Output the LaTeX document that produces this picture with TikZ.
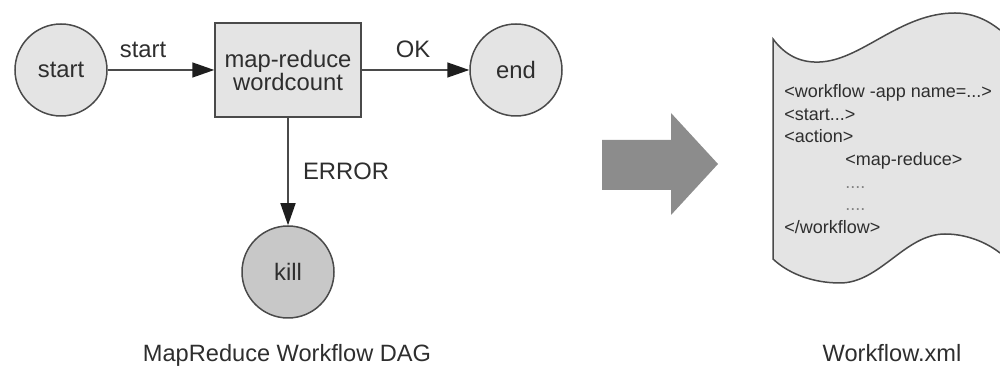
\documentclass[tikz,border=0pt]{standalone}
\usepackage{fontspec}
\setmainfont{Liberation Sans}
\usetikzlibrary{arrows.meta}
\definecolor{ink}{HTML}{2E2E2E}
\definecolor{lightfill}{HTML}{E4E4E4}
\definecolor{killfill}{HTML}{C8C8C8}
\definecolor{linegray}{HTML}{4A4A4A}
\definecolor{tipcol}{HTML}{1E1E1E}
\definecolor{bigarrow}{HTML}{8C8C8C}
\tikzset{
  every node/.style={text=ink},
  state/.style={circle, draw=linegray, line width=0.75pt, fill=lightfill, minimum size=46pt, inner sep=0pt, font=\fontsize{11.9}{11.5}\selectfont},
  killstate/.style={state, fill=killfill},
  actionbox/.style={rectangle, draw=linegray, line width=0.75pt, fill=lightfill, minimum width=73pt, minimum height=47pt, inner sep=0pt, align=center, font=\fontsize{11.9}{11.5}\selectfont},
  flow/.style={draw=linegray, line width=0.75pt, -{Triangle[length=11pt,width=7.5pt,color=tipcol,fill=tipcol]}},
  lbl/.style={font=\fontsize{11.9}{11.5}\selectfont, anchor=base, inner sep=0pt},
  caption/.style={font=\fontsize{11.8}{12}\selectfont, anchor=base, inner sep=0pt},
  doctext/.style={font=\fontsize{9}{11.35}\selectfont, align=left, anchor=north west, inner sep=0pt},
}
\begin{document}
\begin{tikzpicture}[x=0.5pt, y=-0.5pt]
\useasboundingbox (0,0) rectangle (1000,367);
% DAG
\node[state] (start) at (61,70) {start};
\node[actionbox] (mr) at (288,70) {map-reduce\\wordcount};
\node[state] (end) at (516,70) {end};
\node[killstate] (kill) at (288,272) {kill};
\draw[flow] (start) -- (mr);
\draw[flow] (mr) -- (end);
\draw[flow] (mr) -- (kill);
\node[lbl] (lstart) at (143,58) {start};
\node[lbl] (lok) at (413,58) {OK};
\node[lbl] (lerr) at (346,180) {ERROR};
\node[caption] (cap1) at (287,362) {MapReduce Workflow DAG};
% big arrow
\fill[bigarrow] (602,140) -- (671,140) -- (671,113) -- (718,164) -- (671,215) -- (671,190) -- (602,190) -- cycle;
% document
\fill[lightfill] (773,39) .. controls (785,55) and (800,63) .. (820,62)
  .. controls (862,60) and (900,13) .. (955,13)
  .. controls (975,13) and (990,22) .. (1000,30)
  -- (1000,253)
  .. controls (990,245) and (970,234) .. (945,234)
  .. controls (905,234) and (880,283) .. (840,283)
  .. controls (815,283) and (790,275) .. (773,259) -- cycle;
\draw[linegray, line width=0.75pt] (1000,30) .. controls (990,22) and (975,13) .. (955,13)
  .. controls (900,13) and (862,60) .. (820,62)
  .. controls (800,63) and (785,55) .. (773,39)
  -- (773,259)
  .. controls (790,275) and (815,283) .. (840,283)
  .. controls (880,283) and (905,234) .. (945,234)
  .. controls (970,234) and (990,245) .. (1000,253);
\node[doctext] (xml) at (784,84) {<workflow -app name=...>\\<start...>\\<action>\\\hspace*{30.5pt}<map-reduce>\\\hspace*{30.5pt}{\color{ink!60}....}\\\hspace*{30.5pt}{\color{ink!60}....}\\</workflow>};
\node[caption] (cap2) at (892,362) {Workflow.xml};
\end{tikzpicture}
\end{document}
